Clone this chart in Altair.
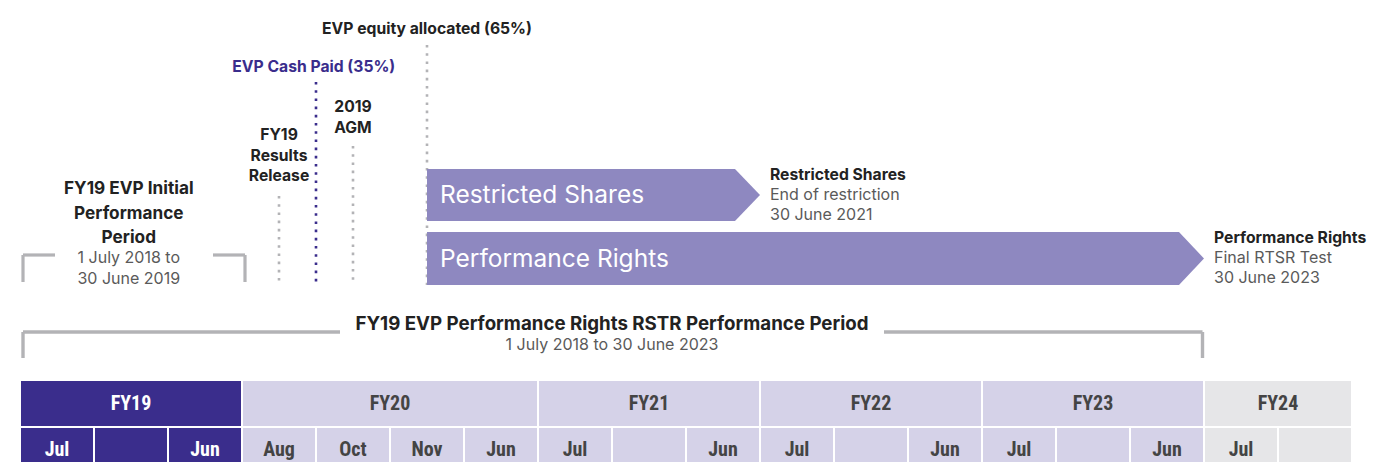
import altair as alt
import pandas as pd

# ---------------- data ----------------
fy_labels = ["FY19", "FY20", "FY21", "FY22", "FY23", "FY24"]
fy_start = [0, 3, 7, 10, 13, 16]
fy_end = [3, 7, 10, 13, 16, 18]
fy_status = ["initial", "period", "period", "period", "period", "after"]

month_labels = ["Jul", "", "Jun", "Aug", "Oct", "Nov", "Jun", "Jul", "", "Jun",
                "Jul", "", "Jun", "Jul", "", "Jun", "Jul", ""]

event_labels = ["FY19\nResults\nRelease", "EVP Cash Paid (35%)", "2019\nAGM",
                "EVP equity allocated (65%)"]
event_slot = [3.5, 4.0, 4.5, 5.5]
event_kind = ["grey", "cash", "grey", "grey"]

arrow_labels = ["Restricted Shares", "Performance Rights"]
arrow_start = [5.5, 5.5]
arrow_end = [10, 16]
arrow_note_title = ["Restricted Shares", "Performance Rights"]
arrow_note_text = ["End of restriction\n30 June 2021", "Final RTSR Test\n30 June 2023"]

initial_title = "FY19 EVP Initial\nPerformance\nPeriod"
initial_dates = "1 July 2018 to\n30 June 2019"
initial_span = [0, 3]

rstr_title = "FY19 EVP Performance Rights RSTR Performance Period"
rstr_dates = "1 July 2018 to 30 June 2023"
rstr_span = [0, 16]

# ---------------- layout / style ----------------
SLOT_PX = 74.0
XS = alt.Scale(domain=[0, 18], range=[12, 1344])
YS = alt.Scale(domain=[8, 462], range=[0, 454])
DARK = "#3a2d8c"
LAV = "#d5d2e8"
GREYCELL = "#e6e6e8"
ARROW = "#8e88c0"
LINEGREY = "#b3b3b6"
TXT = "#222222"
SUB = "#5a5a5a"
FONT = "Inter"
TFONT = "Roboto Condensed, DejaVu Sans Condensed, Roboto"
CELL_FILL = {"initial": DARK, "period": LAV, "after": GREYCELL}
CELL_TEXT = {"initial": "white", "period": "#444444", "after": "#444444"}


def X(f):
    return alt.X(f, type="quantitative", scale=XS, axis=None)


def Y(f):
    return alt.Y(f, type="quantitative", scale=YS, axis=None, stack=None)


def C(f):
    return alt.Color(f, type="nominal", scale=None, legend=None)


layers = []

# ---- table: FY header row ----
fy_df = pd.DataFrame({"lab": fy_labels, "x0": fy_start, "x1": fy_end, "st": fy_status})
fy_df["y0"] = 380
fy_df["y1"] = 427
fy_df["fill"] = [CELL_FILL[s] for s in fy_status]
fy_df["tc"] = [CELL_TEXT[s] for s in fy_status]
fy_df["xm"] = [(a + b) / 2 for a, b in zip(fy_start, fy_end)]
fy_df["ym"] = 404
layers.append(alt.Chart(fy_df).mark_rect(stroke="white", strokeWidth=2).encode(
    x=X("x0"), x2="x1", y=Y("y0"), y2="y1", color=C("fill")))

# ---- table: month row ----
rows = []
for i, m in enumerate(month_labels):
    st = [fy_status[k] for k in range(len(fy_labels)) if fy_start[k] <= i < fy_end[k]][0]
    rows.append({"lab": m, "x0": i, "x1": i + 1, "xm": i + 0.5,
                 "fill": CELL_FILL[st], "tc": CELL_TEXT[st],
                 "y0": 427, "y1": 490, "ym": 450})
mo_df = pd.DataFrame(rows)
layers.append(alt.Chart(mo_df).mark_rect(stroke="white", strokeWidth=2).encode(
    x=X("x0"), x2="x1", y=Y("y0"), y2="y1", color=C("fill")))

layers.append(alt.Chart(fy_df).mark_text(font=TFONT, fontSize=20, fontWeight="bold",
                                         baseline="middle", align="center").encode(
    x=X("xm"), y=Y("ym"), text="lab:N", color=C("tc")))
layers.append(alt.Chart(mo_df).mark_text(font=TFONT, fontSize=20, fontWeight="bold",
                                         baseline="middle", align="center").encode(
    x=X("xm"), y=Y("ym"), text="lab:N", color=C("tc")))

# ---- event dotted lines ----
ev_top = {"FY19\nResults\nRelease": 196, "EVP Cash Paid (35%)": 82, "2019\nAGM": 146,
          "EVP equity allocated (65%)": 45}
lab_y = {"FY19\nResults\nRelease": 135, "EVP Cash Paid (35%)": 67, "2019\nAGM": 107,
         "EVP equity allocated (65%)": 29}
ev_df = pd.DataFrame({"lab": event_labels, "x": event_slot, "kind": event_kind})
ev_df["y0"] = [ev_top[l] for l in event_labels]
ev_df["y1"] = 285
ev_df["lc"] = [DARK if k == "cash" else LINEGREY for k in event_kind]
ev_df["tc"] = [DARK if k == "cash" else TXT for k in event_kind]
ev_df["ly"] = [lab_y[l] for l in event_labels]
ev_df["xl"] = [s - (0.03 if k == "cash" else 0) for s, k in zip(event_slot, event_kind)]
layers.append(alt.Chart(ev_df).mark_rule(strokeWidth=2.6, strokeDash=[2.6, 5.6]).encode(
    x=X("x"), y=Y("y0"), y2="y1", color=C("lc")))
layers.append(alt.Chart(ev_df).mark_text(font=FONT, fontSize=15.7, fontWeight="bold",
                                         align="center", baseline="middle",
                                         lineBreak="\n", lineHeight=20.5).encode(
    x=X("xl"), y=Y("ly"), text="lab:N", color=C("tc")))

# ---- arrows ----
TIP = 25 / SLOT_PX
arrow_y = {"Restricted Shares": (169, 221), "Performance Rights": (232, 285)}
for lab, s, e in zip(arrow_labels, arrow_start, arrow_end):
    t, b = arrow_y[lab]
    m = (t + b) / 2
    pts = pd.DataFrame([{"x": s, "yt": t, "yb": b},
                        {"x": e - TIP, "yt": t, "yb": b},
                        {"x": e, "yt": m, "yb": m}])
    layers.append(alt.Chart(pts).mark_area(color=ARROW, opacity=1, interpolate="linear").encode(
        x=X("x"), y=Y("yt"), y2="yb"))

al_df = pd.DataFrame({"lab": arrow_labels, "x": arrow_start,
                      "y": [(arrow_y[l][0] + arrow_y[l][1]) / 2 + 1 for l in arrow_labels]})
layers.append(alt.Chart(al_df).mark_text(font=FONT, fontSize=24.5, color="white", align="left",
                                         baseline="middle", dx=13).encode(
    x=X("x"), y=Y("y"), text="lab:N"))

# arrow end notes
nt_df = pd.DataFrame({"t": arrow_note_title, "s": arrow_note_text, "x": arrow_end,
                      "y": [arrow_y[l][0] + 6 for l in arrow_labels]})
nt_df["y2"] = nt_df["y"] + 20
layers.append(alt.Chart(nt_df).mark_text(font=FONT, fontSize=15.7, fontWeight="bold", color=TXT,
                                         align="left", baseline="middle", dx=10).encode(
    x=X("x"), y=Y("y"), text="t:N"))
layers.append(alt.Chart(nt_df).mark_text(font=FONT, fontSize=16, color=SUB, align="left",
                                         baseline="middle", dx=10, lineBreak="\n",
                                         lineHeight=20).encode(
    x=X("x"), y=Y("y2"), text="s:N"))

# ---- initial period bracket ----
INS = 3 / SLOT_PX
ARM = 32 / SLOT_PX
ib_h = pd.DataFrame({"x0": [initial_span[0] + INS, initial_span[1] + INS - ARM],
                     "x1": [initial_span[0] + INS + ARM, initial_span[1] + INS],
                     "y": [255, 255]})
ib_v = pd.DataFrame({"x": [initial_span[0] + INS, initial_span[1] + INS],
                     "y0": [255, 255], "y1": [282, 282]})
layers.append(alt.Chart(ib_h).mark_rule(color=LINEGREY, strokeWidth=3.2).encode(
    x=X("x0"), x2="x1", y=Y("y")))
layers.append(alt.Chart(ib_v).mark_rule(color=LINEGREY, strokeWidth=3.2).encode(
    x=X("x"), y=Y("y0"), y2="y1"))

it_df = pd.DataFrame({"t": [initial_title], "d": [initial_dates],
                      "x": [(initial_span[0] + initial_span[1]) / 2 - 0.03],
                      "y": [189], "y2": [258]})
layers.append(alt.Chart(it_df).mark_text(font=FONT, fontSize=17.2, fontWeight="bold", color=TXT,
                                         align="center", baseline="middle", lineBreak="\n",
                                         lineHeight=24.5).encode(
    x=X("x"), y=Y("y"), text="t:N"))
layers.append(alt.Chart(it_df).mark_text(font=FONT, fontSize=16, color=SUB,
                                         align="center", baseline="middle", lineBreak="\n",
                                         lineHeight=21).encode(
    x=X("x"), y=Y("y2"), text="d:N"))

# ---- RSTR period bracket ----
mid = (rstr_span[0] + rstr_span[1]) / 2
GAP = 272 / SLOT_PX
rb_h = pd.DataFrame({"x0": [rstr_span[0] + INS, mid + GAP],
                     "x1": [mid - GAP, rstr_span[1] - INS / 2],
                     "y": [332, 332]})
rb_v = pd.DataFrame({"x": [rstr_span[0] + INS, rstr_span[1] - INS / 2],
                     "y0": [332, 332], "y1": [358, 358]})
layers.append(alt.Chart(rb_h).mark_rule(color=LINEGREY, strokeWidth=3.4).encode(
    x=X("x0"), x2="x1", y=Y("y")))
layers.append(alt.Chart(rb_v).mark_rule(color=LINEGREY, strokeWidth=3.4).encode(
    x=X("x"), y=Y("y0"), y2="y1"))
rt_df = pd.DataFrame({"t": [rstr_title], "d": [rstr_dates], "x": [mid], "y": [324], "y2": [345]})
layers.append(alt.Chart(rt_df).mark_text(font=FONT, fontSize=18.7, fontWeight="bold", color=TXT,
                                         align="center", baseline="middle").encode(
    x=X("x"), y=Y("y"), text="t:N"))
layers.append(alt.Chart(rt_df).mark_text(font=FONT, fontSize=16, color=SUB,
                                         align="center", baseline="middle").encode(
    x=X("x"), y=Y("y2"), text="d:N"))

chart = alt.layer(*layers).properties(
    width=1360, height=454,
    autosize=alt.AutoSizeParams(type="none"), padding=0
).configure_view(stroke=None)

chart.save("out.html", embed_options={"renderer": "svg", "actions": False})
